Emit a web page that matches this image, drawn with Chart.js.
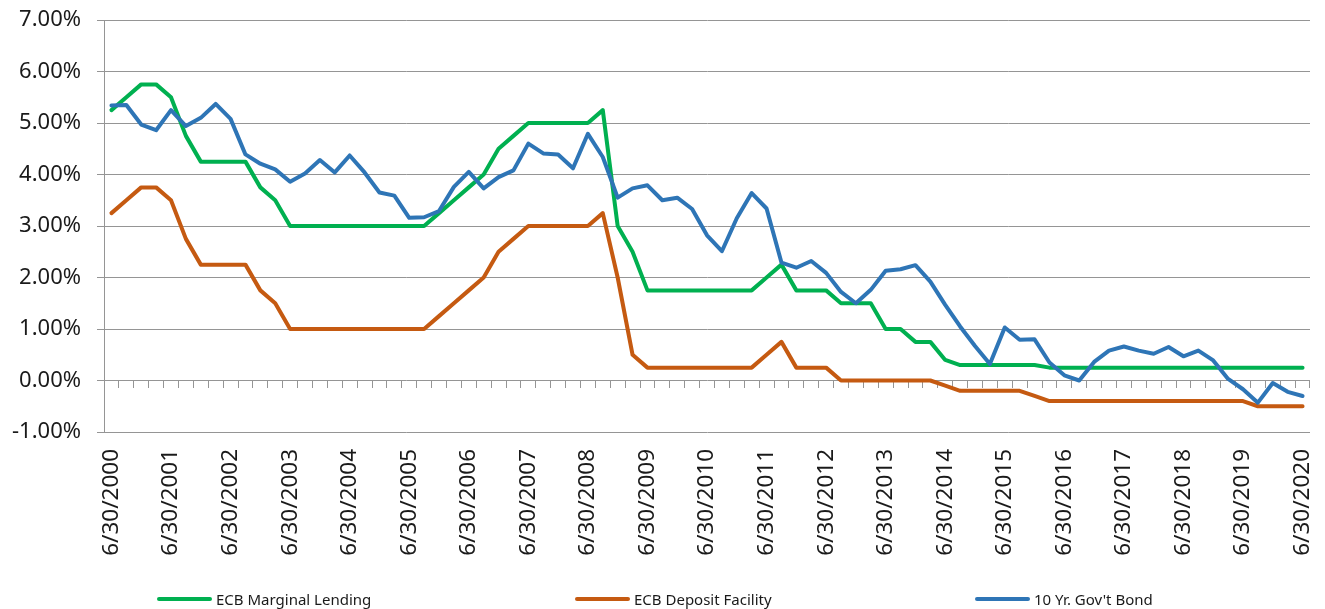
<!DOCTYPE html>
<html>
<head>
<meta charset="utf-8">
<script src="https://cdn.jsdelivr.net/npm/chart.js@4.4.1/dist/chart.umd.min.js"></script>
<style>
  html, body { margin: 0; padding: 0; background: #fff; }
  #wrap { position: relative; width: 1325px; height: 609px; }
  #legend { position: absolute; left: 157px; top: 590px; display: flex;
            font-family: 'Noto Sans', sans-serif; font-size: 15px; color: #1a1a1a; }
  .item { display: flex; align-items: center; height: 18px; white-space: nowrap; }
  .swatch { width: 55px; height: 4px; border-radius: 2px; margin-right: 4px; }
</style>
</head>
<body>
<div id="wrap">
  <canvas id="chart" width="1325" height="609"></canvas>
  <div id="legend"></div>
</div>
<script>
// Quarter-end dates, 6/30/2000 through 6/30/2020
const quarterEnds = ['3/31', '6/30', '9/30', '12/31'];
const categories = [];
for (let year = 2000; year <= 2020; year++) {
  quarterEnds.forEach((q, qi) => {
    if ((year === 2000 && qi < 1) || (year === 2020 && qi > 1)) return;
    categories.push(q + '/' + year);
  });
}

// Rates in percent, one value per quarter end
const marginalLending = [
  5.25, 5.50, 5.75, 5.75, 5.50, 4.75, 4.25, 4.25, 4.25, 4.25, 3.75, 3.50, 3.00,
  3.00, 3.00, 3.00, 3.00, 3.00, 3.00, 3.00, 3.00, 3.00,
  3.25, 3.50, 3.75, 4.00, 4.50, 4.75, 5.00, 5.00, 5.00, 5.00, 5.00, 5.25, 3.00, 2.50, 1.75,
  1.75, 1.75, 1.75, 1.75, 1.75, 1.75, 1.75,
  2.00, 2.25, 1.75, 1.75, 1.75, 1.50, 1.50, 1.50, 1.00, 1.00, 0.75, 0.75, 0.40, 0.30,
  0.30, 0.30, 0.30, 0.30, 0.30,
  0.25, 0.25, 0.25, 0.25, 0.25, 0.25, 0.25, 0.25, 0.25, 0.25, 0.25, 0.25, 0.25, 0.25,
  0.25, 0.25, 0.25, 0.25
];

const depositFacility = [
  3.25, 3.50, 3.75, 3.75, 3.50, 2.75, 2.25, 2.25, 2.25, 2.25, 1.75, 1.50, 1.00,
  1.00, 1.00, 1.00, 1.00, 1.00, 1.00, 1.00, 1.00, 1.00,
  1.25, 1.50, 1.75, 2.00, 2.50, 2.75,
  3.00, 3.00, 3.00, 3.00, 3.00,
  3.25, 2.00, 0.50,
  0.25, 0.25, 0.25, 0.25, 0.25, 0.25, 0.25, 0.25,
  0.50, 0.75, 0.25, 0.25, 0.25,
  0.00, 0.00, 0.00, 0.00, 0.00, 0.00, 0.00,
  -0.10,
  -0.20, -0.20, -0.20, -0.20, -0.20,
  -0.30,
  -0.40, -0.40, -0.40, -0.40, -0.40, -0.40, -0.40, -0.40, -0.40, -0.40, -0.40, -0.40, -0.40, -0.40,
  -0.50, -0.50, -0.50, -0.50
];

const govBond10y = [
  5.34, 5.35, 4.97, 4.86, 5.25, 4.94, 5.10, 5.37, 5.08, 4.39,
  4.21, 4.10, 3.86, 4.02, 4.28, 4.04, 4.37, 4.04, 3.65, 3.59,
  3.16, 3.17, 3.29, 3.76, 4.05, 3.73, 3.95, 4.08, 4.60, 4.41,
  4.39, 4.12, 4.79, 4.34, 3.55, 3.73, 3.79, 3.50, 3.55, 3.33,
  2.82, 2.51, 3.15, 3.64, 3.34, 2.29, 2.19, 2.32, 2.09, 1.72,
  1.50, 1.76, 2.13, 2.16, 2.24, 1.92, 1.47, 1.05, 0.67, 0.32,
  1.03, 0.79, 0.80, 0.35, 0.10, 0.00, 0.36, 0.58, 0.66, 0.58,
  0.52, 0.65, 0.47, 0.58, 0.39, 0.03, -0.17, -0.43, -0.05, -0.22,
  -0.30
];

const seriesNames = ['ECB Marginal Lending', 'ECB Deposit Facility', "10 Yr. Gov't Bond"];
const seriesColors = ['#00B050', '#C55A11', '#2E75B6'];

const axisFont = 'Noto Sans';
const textColor = '#1a1a1a';
const gridColor = '#959595';

const line = (label, data, color, order) => ({
  label, data, order,
  borderColor: color, backgroundColor: color,
  borderWidth: 4, tension: 0, pointRadius: 0, pointHoverRadius: 0,
  borderJoinStyle: 'round', borderCapStyle: 'round', fill: false
});

const chart = new Chart(document.getElementById('chart'), {
  type: 'line',
  data: {
    labels: categories,
    datasets: [
      line(seriesNames[0], marginalLending, seriesColors[0], 3),
      line(seriesNames[1], depositFacility, seriesColors[1], 2),
      line(seriesNames[2], govBond10y, seriesColors[2], 1)
    ]
  },
  options: {
    responsive: false,
    devicePixelRatio: 1,
    animation: false,
    layout: { padding: { top: 20, right: 15, bottom: 0, left: 0 } },
    plugins: { legend: { display: false }, tooltip: { enabled: false } },
    scales: {
      x: {
        type: 'category',
        offset: true,
        grid: { display: false },
        border: { display: false },
        ticks: {
          autoSkip: false, minRotation: 90, maxRotation: 90, padding: 9,
          color: textColor, font: { family: axisFont, size: 22.5 },
          callback(value, index) { return index % 4 === 0 ? this.getLabelForValue(value) : ''; }
        },
        afterFit(scale) {
          scale.height = 177;
          scale.paddingLeft = 0;
          scale.paddingRight = 0;
        }
      },
      // quarter tick marks hanging below the zero line
      xq: {
        type: 'category',
        position: { y: 0 },
        offset: true,
        grid: { offset: true, drawOnChartArea: false, drawTicks: true, tickLength: 7, color: gridColor },
        border: { display: false },
        ticks: { display: false }
      },
      y: {
        min: -1, max: 7,
        ticks: {
          stepSize: 1, padding: 16, color: textColor,
          font: { family: axisFont, size: 22 },
          callback: v => v.toFixed(2) + '%'
        },
        grid: { color: gridColor, tickLength: 7, drawTicks: true },
        border: { color: gridColor },
        afterFit(scale) {
          scale.width = 104;
          scale.paddingTop = 0;
          scale.paddingBottom = 0;
        }
      }
    }
  }
});

// Legend row under the axis labels
const legendEl = document.getElementById('legend');
const legendWidths = [418, 400, null];
chart.data.datasets.forEach((ds, i) => {
  const item = document.createElement('div');
  item.className = 'item';
  if (legendWidths[i]) item.style.width = legendWidths[i] + 'px';
  const sw = document.createElement('span');
  sw.className = 'swatch';
  sw.style.background = ds.borderColor;
  const tx = document.createElement('span');
  tx.textContent = ds.label;
  item.appendChild(sw);
  item.appendChild(tx);
  legendEl.appendChild(item);
});
</script>
</body>
</html>
